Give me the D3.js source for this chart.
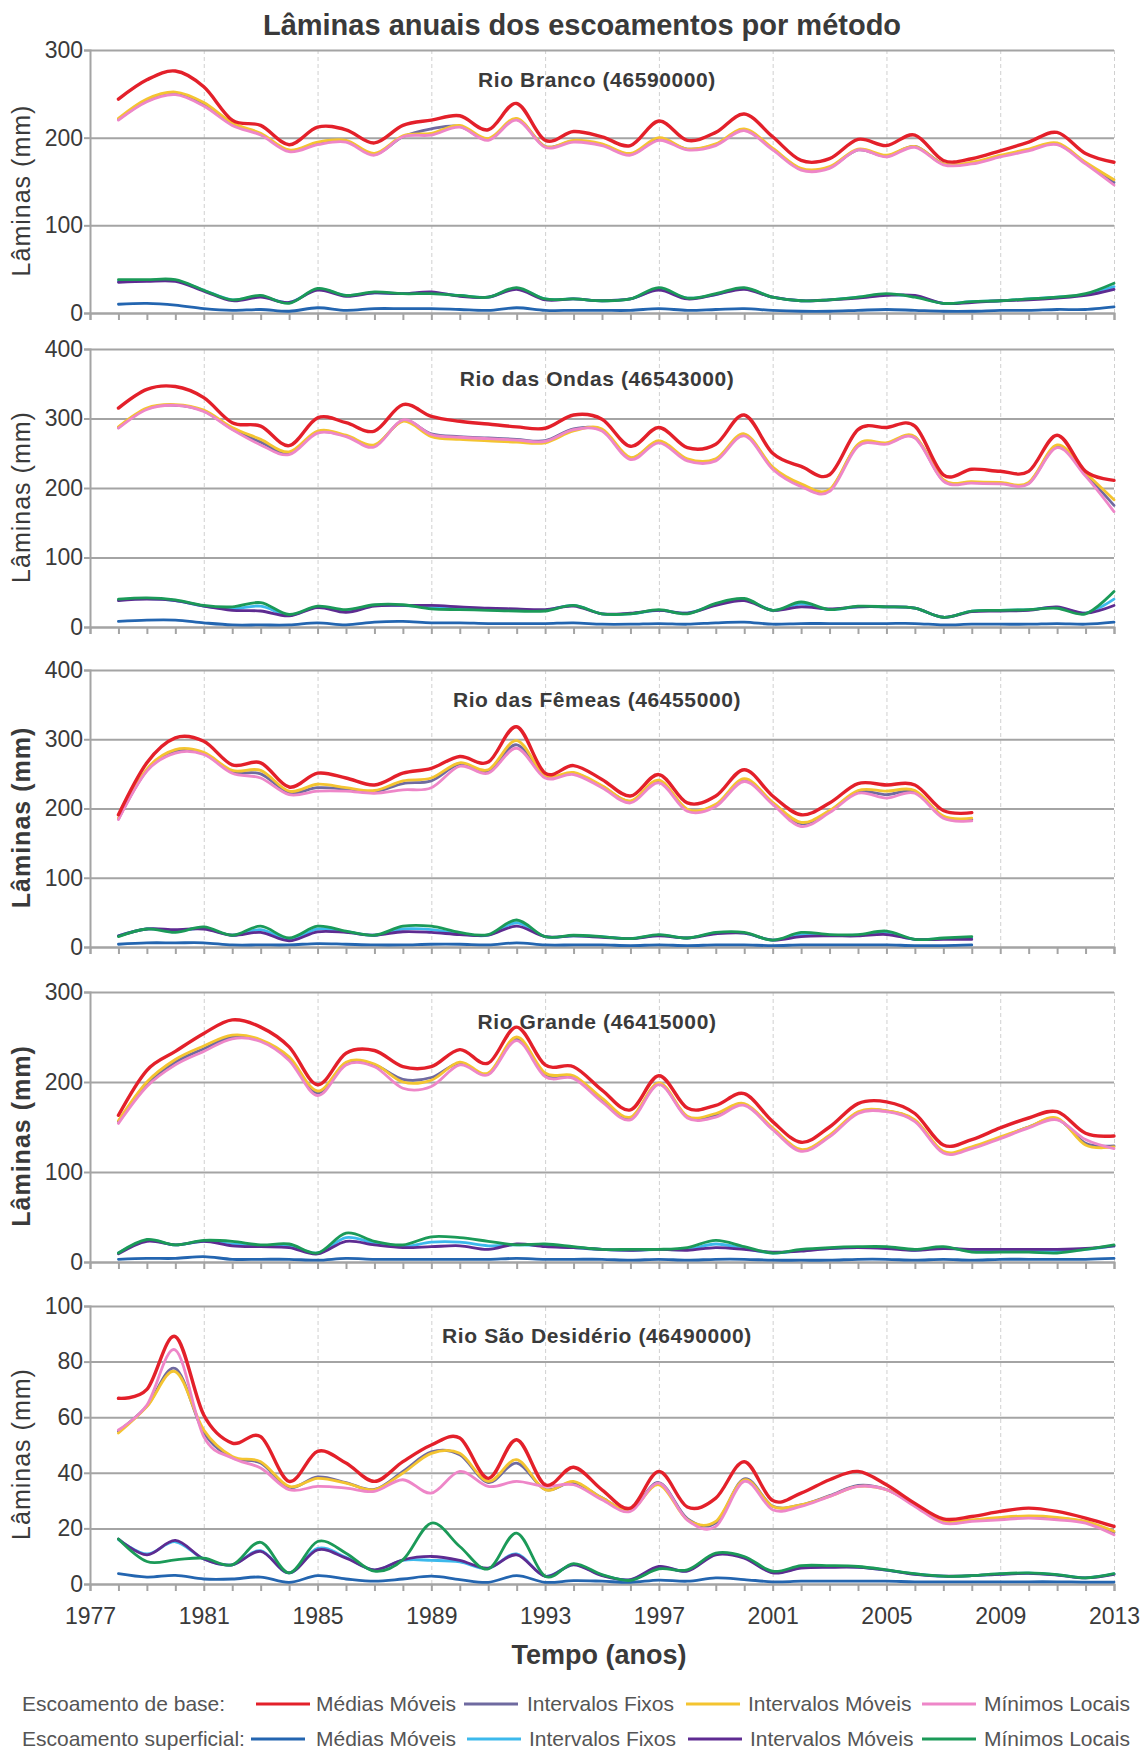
<!DOCTYPE html>
<head>
  <meta charset="utf-8">
  <script src="https://d3js.org/d3.v7.min.js"></script>
  <style>
    body { margin:0; background:#fff; }
    text { font-family: "Liberation Sans", Arial, sans-serif; }
    .hgrid line { stroke:#a4a4a4; stroke-width:2; }
    .vgrid line { stroke:#d0d0d0; stroke-width:1; stroke-dasharray:4,3; }
    .hgrid path, .vgrid path { display:none; }
    .axis path, .axis line { stroke:#a4a4a4; stroke-width:2; fill:none; }
    .yaxis text { font-size:23px; fill:#3a3a3a; }
    .xlab text { font-size:23px; fill:#3a3a3a; }
    .xlab path, .xlab line { display:none; }
    .serie { fill:none; stroke-linejoin:round; stroke-linecap:round; }
  </style>
</head>
<body>
<svg id="chart"></svg>
<script>
// anos e rótulos
var years = [1978,1979,1980,1981,1982,1983,1984,1985,1986,1987,1988,1989,1990,1991,1992,1993,1994,1995,1996,1997,1998,1999,2000,2001,2002,2003,2004,2005,2006,2007,2008,2009,2010,2011,2012,2013];
var tickYears = [1977,1981,1985,1989,1993,1997,2001,2005,2009,2013];
var stations = ["Rio Branco (46590000)","Rio das Ondas (46543000)","Rio das Fêmeas (46455000)","Rio Grande (46415000)","Rio São Desidério (46490000)"];
var yTicks = [[0,100,200,300],[0,100,200,300,400],[0,100,200,300,400],[0,100,200,300],[0,20,40,60,80,100]];
var methods = ["Médias Móveis","Intervalos Fixos","Intervalos Móveis","Mínimos Locais"];

// Rio Branco
var brancoBaseMM = [244,266,276,258,220,214,192,212,209,194,214,220,225,209,239,197,207,201,191,219,197,206,227,201,174,176,198,191,203,174,176,185,195,206,182,172];
var brancoBaseIF = [221,242,250,238,215,204,185,193,196,181,201,210,213,198,221,190,196,192,181,198,187,192,209,187,164,166,186,179,190,170,171,179,186,193,171,149];
var brancoBaseIM = [222,244,252,240,217,205,186,195,197,182,202,205,214,199,222,190,197,193,182,200,187,193,210,188,165,167,187,180,190,170,172,180,187,194,172,152];
var brancoBaseML = [220,241,249,236,214,203,184,192,195,180,201,203,212,197,220,189,195,191,180,197,186,191,208,186,163,165,186,178,189,169,170,178,185,192,170,146];
var brancoSupMM = [10,11,9,5,3,4,2,6,3,5,5,5,4,3,6,3,3,3,3,5,3,4,5,3,2,2,3,4,3,2,2,3,3,4,4,7];
var brancoSupIF = [36,37,37,26,15,19,12,27,20,23,22,23,20,18,28,16,16,14,16,27,17,21,28,18,14,15,18,21,19,11,13,14,16,18,21,30];
var brancoSupIM = [35,36,36,25,14,18,12,26,19,23,22,24,19,18,27,15,16,14,16,26,16,21,27,18,14,15,17,20,20,11,12,14,15,17,20,27];
var brancoSupML = [38,38,38,26,15,20,11,28,20,24,22,22,20,18,29,16,16,14,16,29,17,22,29,18,14,15,18,22,18,11,13,14,16,18,22,34];

// Rio das Ondas
var ondasBaseMM = [315,342,346,330,294,289,261,301,294,282,320,303,296,292,288,286,305,299,260,287,258,263,305,250,231,219,284,287,289,219,227,224,224,276,224,211];
var ondasBaseIF = [287,314,319,311,285,266,250,280,275,261,297,278,274,272,270,268,285,283,243,267,241,241,276,229,204,197,262,264,273,211,208,207,207,260,220,175];
var ondasBaseIM = [288,315,320,312,287,270,252,282,276,262,296,274,270,268,266,265,282,285,244,268,242,242,278,230,206,198,263,265,274,212,209,208,208,262,222,183];
var ondasBaseML = [286,313,319,310,284,262,248,279,274,259,298,277,273,271,269,267,284,282,241,265,239,239,275,227,202,195,260,263,272,210,207,206,206,258,217,166];
var ondasSupMM = [8,10,10,6,3,3,3,6,3,7,8,6,6,5,5,5,6,4,4,5,4,6,7,4,5,5,5,5,5,3,4,4,4,5,4,7];
var ondasSupIF = [39,41,38,30,26,30,17,29,23,31,31,28,27,25,24,24,31,19,19,24,20,32,40,24,33,25,29,29,27,14,23,24,25,28,20,40];
var ondasSupIM = [38,40,38,30,24,23,16,28,21,30,31,31,29,27,26,25,30,19,20,24,20,31,38,24,29,26,29,29,27,14,22,23,24,29,20,31];
var ondasSupML = [40,42,39,31,29,35,18,30,25,32,32,26,25,24,23,23,31,19,19,25,19,34,41,24,36,25,30,29,27,14,23,24,25,27,19,51];

// Rio das Fêmeas (até 2008)
var femeasBaseMM = [191,266,302,297,263,266,231,251,244,234,251,258,275,267,318,251,262,242,218,249,208,218,256,218,191,208,236,234,234,197,194];
var femeasBaseIF = [185,255,283,279,253,250,223,230,228,224,236,240,264,254,292,246,251,232,210,239,198,205,241,208,178,196,224,220,224,188,184];
var femeasBaseIM = [186,257,285,281,255,255,225,235,230,226,240,244,266,256,298,248,252,233,211,241,199,206,243,209,180,197,226,225,226,189,186];
var femeasBaseML = [184,254,280,278,251,244,220,225,225,222,227,230,261,251,287,244,249,230,208,237,196,203,239,206,174,194,222,215,222,186,182];
var femeasSupMM = [4,6,6,6,3,3,3,5,4,3,3,4,4,3,6,3,3,3,2,3,2,3,3,2,3,3,3,3,2,2,3];
var femeasSupIF = [16,26,23,27,17,25,11,26,22,17,26,25,19,17,35,15,16,15,12,17,13,20,20,10,18,17,17,20,11,12,13];
var femeasSupIM = [16,26,25,26,17,21,9,22,21,17,22,21,18,17,30,15,16,14,12,16,13,19,20,10,15,16,16,18,11,11,11];
var femeasSupML = [15,26,21,29,17,30,13,30,23,17,30,30,21,18,39,15,17,15,12,18,13,21,21,10,21,18,18,23,11,13,15];

// Rio Grande
var grandeBaseMM = [163,213,234,254,269,261,239,197,232,235,217,217,236,221,261,219,217,191,169,207,171,174,187,156,133,150,176,178,165,130,136,149,160,167,143,140];
var grandeBaseIF = [156,198,222,237,250,246,226,188,221,219,203,205,221,209,248,208,206,180,160,198,161,163,175,148,124,140,166,168,157,122,127,138,150,159,132,129];
var grandeBaseIM = [157,200,225,240,252,247,228,190,222,220,200,202,222,210,250,210,207,182,161,199,162,165,176,149,125,141,167,168,158,123,128,139,150,160,130,128];
var grandeBaseML = [154,195,219,234,248,245,224,185,219,217,193,195,219,208,246,206,204,178,158,197,160,161,174,147,123,139,165,167,156,121,126,137,149,158,136,126];
var grandeSupMM = [3,4,4,6,3,3,3,2,4,3,3,3,3,3,4,3,3,3,2,3,2,3,3,2,2,2,3,3,2,3,2,3,3,3,3,4];
var grandeSupIF = [10,24,19,23,20,18,18,10,27,21,17,22,22,18,19,18,16,14,13,14,14,20,15,10,13,15,16,16,13,16,12,12,12,12,14,18];
var grandeSupIM = [9,23,19,23,18,17,16,9,23,19,16,17,18,14,20,17,16,14,13,14,13,16,14,11,12,15,16,15,13,15,14,14,14,14,15,18];
var grandeSupML = [10,25,19,24,23,19,20,10,32,23,19,28,27,23,19,20,17,14,14,14,16,24,17,10,14,16,17,17,14,17,11,11,11,10,14,19];

// Rio São Desidério
var desiderioBaseMM = [66.8,70,89,60.8,50.7,53,36.9,47.7,43.5,36.9,44,50,52.5,38,51.9,35.7,42,33.9,27.3,40.5,27.7,30.9,44,30,32.7,37.5,40.5,35.7,29,23.4,24.3,26.1,27.3,26.1,23.7,20.7];
var desiderioBaseIF = [55,64,77.5,54.5,45.5,43.5,34.8,38.5,36.5,34,40.5,47.5,46.5,36.5,43.5,34,36.5,31,26.5,36.5,23.5,22,37.8,28,28.5,31.8,35.5,34,28.3,22.2,22.8,23.6,24.2,23.7,22.3,18.5];
var desiderioBaseIM = [54.3,63.8,76.4,55.4,45.9,44,35.1,38,36.3,33.9,39.9,47,47,36.9,44.7,33.9,36.9,30.9,26.7,35.7,23.1,22.5,37.5,27.9,28.5,31.5,35.1,33.9,28.5,22.5,23.1,24,24.5,24,22.5,19];
var desiderioBaseML = [55.4,64.4,84.2,53,45.3,41.7,33.9,35.1,34.5,33.3,37.5,32.7,40.5,35.1,36.9,35.1,35.7,30.3,26.1,36.3,23,20.7,36.9,26.7,27.9,31.5,35.1,33.9,27.9,21.9,22.5,23.1,23.7,23.1,21.9,17.7];
var desiderioSupMM = [3.7,2.5,3.1,1.8,1.8,2.5,0.6,3,1.8,1,1.8,2.8,1.6,0.6,3,0.6,1.2,1,0.6,1.4,1,2.2,1.6,0.8,1,1,1,1,0.8,0.8,0.8,0.8,0.8,0.8,0.7,0.7];
var desiderioSupIF = [16,10.8,15.2,9,6.9,12,4,12.8,9.6,5,8.5,8.5,8,5.6,10.8,2.8,7,3.2,1.5,6,4.8,10.8,9.6,4.2,5.9,6.2,6.1,5,3.6,2.8,3,3.6,3.9,3.3,2.2,3.6];
var desiderioSupIM = [16.2,10.5,15.7,9,6.9,11.7,4,12.3,9.3,5.1,8.7,9.9,8.5,5.7,10.5,2.8,6.9,3,1.6,6.3,4.6,10.5,9.3,4,5.7,6,6,5,3.5,2.8,3,3.5,3.8,3.2,2.2,3.5];
var desiderioSupML = [16.2,8.1,8.7,9.3,6.9,15,4,15.3,11.1,4.6,8.7,21.9,13.5,5.4,18.3,2.8,7.3,3.4,1.3,5.4,5.1,11.1,9.9,4.6,6.6,6.6,6.3,5.1,3.7,2.8,3,3.7,4,3.4,2.2,3.7];

var baseColors = ["#e3202a","#6f6aa0","#f4c430","#ee86c8"];
var supColors  = ["#2365b0","#3cb9ec","#5e2b91","#1b9a58"];

var panelData = [
  [brancoBaseMM,brancoBaseIF,brancoBaseIM,brancoBaseML,brancoSupMM,brancoSupIF,brancoSupIM,brancoSupML],
  [ondasBaseMM,ondasBaseIF,ondasBaseIM,ondasBaseML,ondasSupMM,ondasSupIF,ondasSupIM,ondasSupML],
  [femeasBaseMM,femeasBaseIF,femeasBaseIM,femeasBaseML,femeasSupMM,femeasSupIF,femeasSupIM,femeasSupML],
  [grandeBaseMM,grandeBaseIF,grandeBaseIM,grandeBaseML,grandeSupMM,grandeSupIF,grandeSupIM,grandeSupML],
  [desiderioBaseMM,desiderioBaseIF,desiderioBaseIM,desiderioBaseML,desiderioSupMM,desiderioSupIF,desiderioSupIM,desiderioSupML]
];

var width = 1143, height = 1751;
var panelTop = [50, 349, 670, 992, 1306];
var panelBottom = [313, 627, 947, 1262, 1584];
var boldLabel = [false, false, true, true, false];

var svg = d3.select("#chart").attr("width", width).attr("height", height);

var x = d3.scaleLinear().domain([1977, 2013]).range([90, 1114]);

// title
svg.append("text")
  .attr("x", 582).attr("y", 35)
  .attr("text-anchor", "middle")
  .style("font-size", "29px").style("font-weight", "bold").style("fill", "#3a3a3a")
  .text("Lâminas anuais dos escoamentos por método");

var line = d3.line().curve(d3.curveCardinal.tension(0));

panelData.forEach(function(series, p) {
  var ticks = yTicks[p];
  var y = d3.scaleLinear().domain([0, d3.max(ticks)]).range([panelBottom[p], panelTop[p]]);
  var g = svg.append("g");

  // vertical dashed grid
  g.append("g").attr("class", "vgrid")
    .attr("transform", "translate(0," + panelBottom[p] + ")")
    .call(d3.axisBottom(x).tickValues(tickYears.slice(1)).tickSize(-(panelBottom[p] - panelTop[p])).tickFormat(""));

  // horizontal grid
  g.append("g").attr("class", "hgrid")
    .attr("transform", "translate(90,0)")
    .call(d3.axisLeft(y).tickValues(ticks).tickSize(-1024).tickFormat(""));

  // y axis
  g.append("g").attr("class", "axis yaxis")
    .attr("transform", "translate(90,0)")
    .call(d3.axisLeft(y).tickValues(ticks).tickSize(6).tickPadding(1));

  // x axis with yearly minor ticks
  g.append("g").attr("class", "axis")
    .attr("transform", "translate(0," + panelBottom[p] + ")")
    .call(d3.axisBottom(x).tickValues(d3.range(1977, 2014)).tickSize(7).tickFormat(""));

  // y label
  g.append("text")
    .attr("transform", "translate(30," + ((panelTop[p] + panelBottom[p]) / 2 + 9) + ") rotate(-90)")
    .attr("text-anchor", "middle")
    .style("font-size", "25px").style("letter-spacing", "1px").style("fill", "#3a3a3a")
    .style("font-weight", boldLabel[p] ? "bold" : "normal")
    .text("Lâminas (mm)");

  // station name
  g.append("text")
    .attr("x", 597).attr("y", panelTop[p] + 37)
    .attr("text-anchor", "middle")
    .style("font-size", "21px").style("letter-spacing", "0.6px").style("font-weight", "bold").style("fill", "#3a3a3a")
    .text(stations[p]);

  // series: draw order so that red and green end up on top
  var order = [4, 5, 6, 7, 1, 2, 3, 0];
  order.forEach(function(k) {
    var vals = series[k];
    var pts = vals.map(function(v, i) { return [x(years[i]), y(v)]; });
    g.append("path")
      .attr("class", "serie")
      .attr("d", line(pts))
      .attr("stroke", k < 4 ? baseColors[k] : supColors[k - 4])
      .attr("stroke-width", k === 0 ? 3.4 : 2.8);
  });

  if (p === panelData.length - 1) {
    g.append("g").attr("class", "xlab")
      .attr("transform", "translate(0," + panelBottom[p] + ")")
      .call(d3.axisBottom(x).tickValues(tickYears).tickSize(0).tickPadding(24).tickFormat(d3.format("d")));
  }
});

// x axis title
svg.append("text")
  .attr("x", 599).attr("y", 1664)
  .attr("text-anchor", "middle")
  .style("font-size", "27px").style("font-weight", "bold").style("fill", "#3a3a3a")
  .text("Tempo (anos)");

// legend
var legendRows = [
  {label: "Escoamento de base:", colors: baseColors, y: 1704, lines: [256, 464, 686, 922], texts: [316, 527, 748, 984]},
  {label: "Escoamento superficial:", colors: supColors, y: 1739, lines: [251, 467, 688, 922], texts: [316, 529, 750, 984]}
];
legendRows.forEach(function(r) {
  var lg = svg.append("g");
  lg.append("text").attr("x", 22).attr("y", r.y + 7)
    .style("font-size", "21px").style("fill", "#555").text(r.label);
  methods.forEach(function(m, i) {
    lg.append("line")
      .attr("x1", r.lines[i]).attr("x2", r.lines[i] + 54)
      .attr("y1", r.y).attr("y2", r.y)
      .attr("stroke", r.colors[i]).attr("stroke-width", 3);
    lg.append("text").attr("x", r.texts[i]).attr("y", r.y + 7)
      .style("font-size", "21px").style("fill", "#555").text(m);
  });
});
</script>
</body>
